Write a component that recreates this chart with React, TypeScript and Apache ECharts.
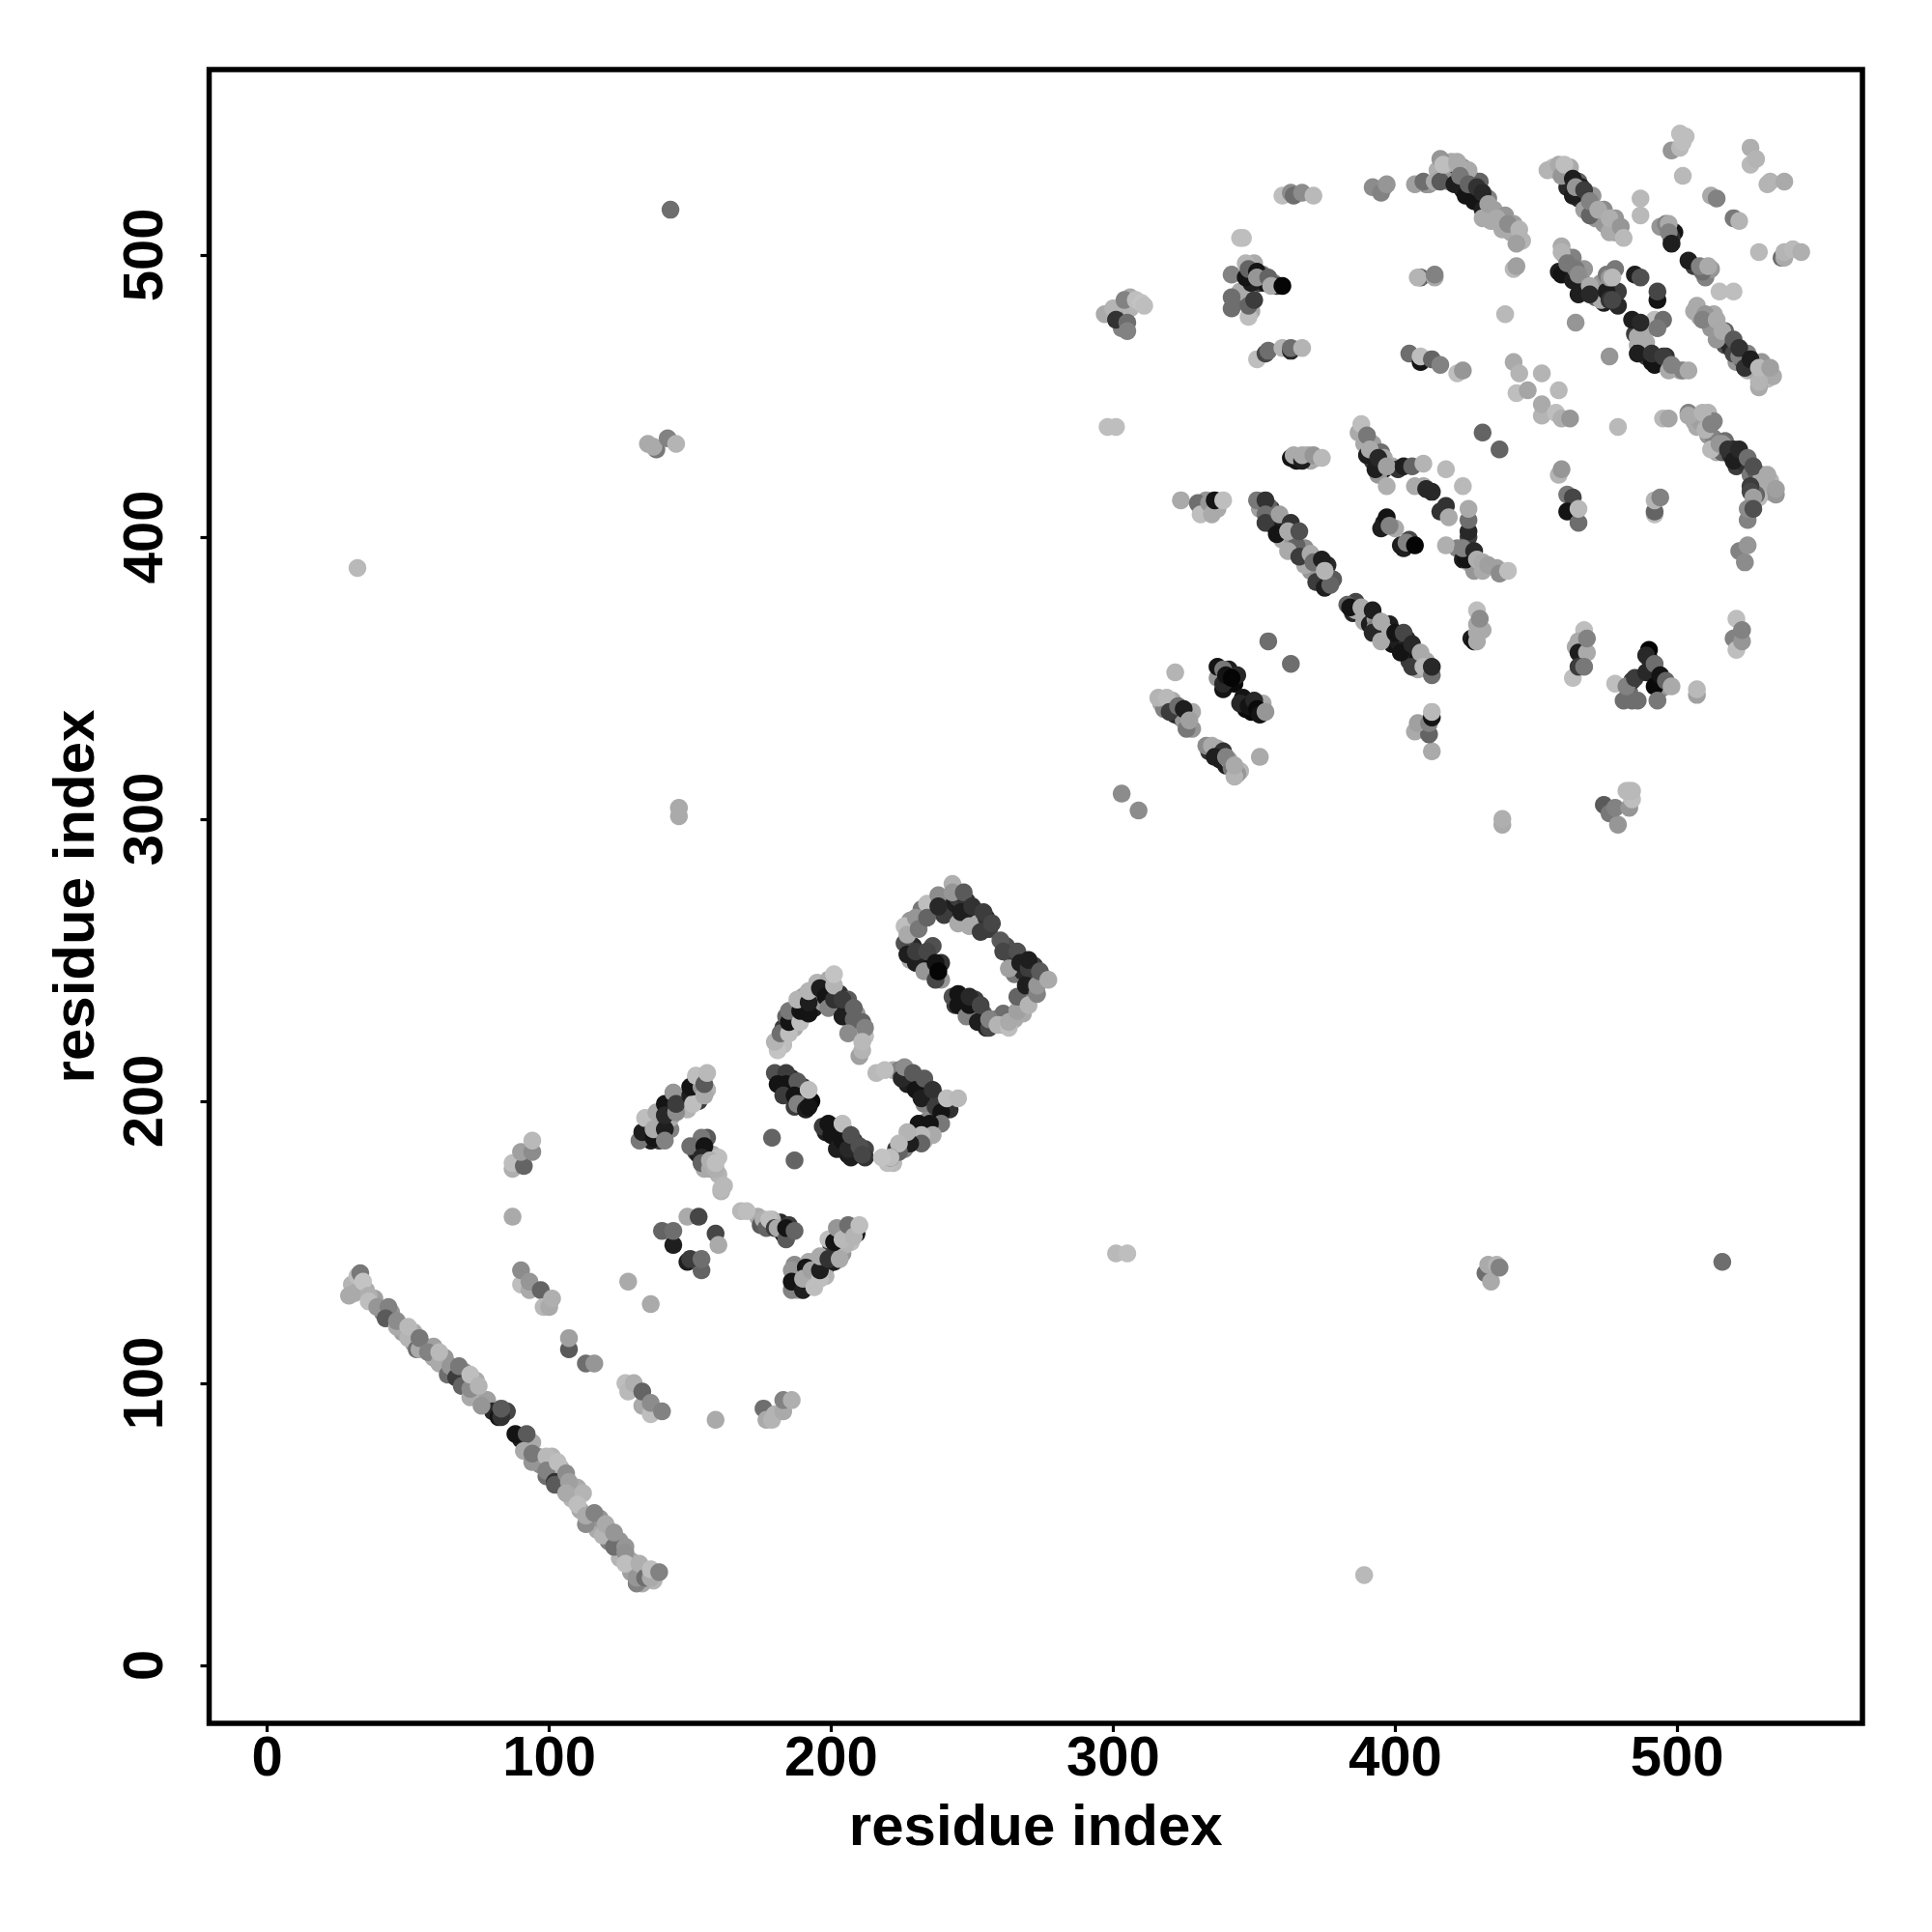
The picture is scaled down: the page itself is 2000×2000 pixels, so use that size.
import React, { useEffect, useRef } from "react";
import * as echarts from "echarts";

type P = [number, number, number];

const tickValues = [0, 100, 200, 300, 400, 500];
const axisTitle = "residue index";

// each contact: residue i, residue j, grey level
const mainStrand: P[] = [[29,131,170],[32,138,190],[33,139,120],[31,132,170],[34,136,195],[36,131,175],[36,129,190],[39,127,150],[43,127,130],[42,123,90],[46,120,170],[46,122,140],[50,116,180],[50,120,185],[53,112,110],[54,112,170],[54,116,120],[57,111,130],[61,107,170],[61,111,185],[64,103,110],[65,106,150],[67,102,60],[68,106,120],[69,99,100],[72,95,170],[72,98,140],[72,103,190],[75,99,180],[76,92,150],[82,88,20],[83,88,50],[83,91,90],[88,82,20],[92,82,90],[91,76,170],[94,72,150],[94,75,120],[99,74,185],[99,67,110],[99,69,130],[103,72,190],[102,65,50],[102,64,90],[106,68,140],[107,65,160],[106,61,170],[112,61,180],[110,57,190],[113,50,140],[113,53,170],[116,54,130],[119,46,180],[120,50,170],[123,42,110],[123,47,150],[127,42,150],[127,40,145],[127,36,190],[131,29,130],[131,31,150],[132,36,175],[134,31,110],[136,31,170],[136,34,190],[139,33,130]];
const mainStrandFill: P[] = [[30,135,180],[35,133,170],[38,130,160],[41,125,130],[44,125,150],[48,118,160],[52,118,170],[52,114,150],[56,113,140],[59,109,170],[59,113,160],[63,109,150],[66,104,90],[70,104,150],[70,101,110],[74,96,160],[74,101,170],[78,94,160],[80,90,40],[85,90,70],[90,80,30],[94,79,170],[96,74,160],[97,71,140],[101,70,170],[101,74,180],[104,66,120],[105,63,90],[104,70,180],[108,59,180],[110,63,170],[111,55,170],[115,52,160],[117,48,170],[118,52,150],[121,44,130],[121,48,160],[125,44,150],[125,38,180],[129,37,170],[129,33,160],[133,33,150],[137,30,180],[133,29,170]];
const lowerScatter: P[] = [[87,176,175],[87,178,190],[91,177,100],[90,182,160],[94,182,140],[94,186,185],[87,159,170],[90,135,190],[90,140,140],[93,133,170],[93,136,150],[97,133,100],[98,127,185],[100,127,170],[101,130,175],[107,112,90],[107,116,160],[113,107,110],[116,107,150],[128,136,170],[136,128,170],[127,100,190],[128,97,185],[130,100,175],[133,92,170],[133,97,100],[136,89,190],[136,93,140],[140,90,130],[159,87,170],[176,91,110],[177,87,170],[179,87,180],[180,89,180],[183,90,170],[183,94,130],[186,94,175]];
const clusterA: P[] = [[132,186,120],[133,189,30],[137,187,20],[134,194,190],[137,190,170],[141,190,30],[141,186,130],[138,196,170],[141,199,20],[141,195,40],[144,203,150],[145,196,140],[145,199,60],[150,202,30],[151,199,190],[150,205,20],[154,205,150],[155,202,170],[152,209,190],[155,206,90],[156,210,185]];
const clusterAFill: P[] = [[135,188,60],[135,192,150],[139,186,60],[139,193,60],[143,190,130],[142,197,90],[147,198,150],[148,201,170],[149,197,180],[152,203,30],[153,200,60],[153,207,170],[156,204,180],[151,206,190],[143,194,170],[136,186,30],[134,189,170]];
const clusterB: P[] = [[154,187,120],[150,184,110],[155,184,20],[154,180,40],[154,178,100],[157,176,170],[157,179,175],[159,176,175],[159,178,190],[161,168,180],[161,169,185],[168,161,185],[170,161,190],[176,158,175],[177,155,100],[178,158,190],[180,155,60],[181,155,170],[184,151,90],[184,155,20],[187,154,100]];
const clusterBFill: P[] = [[152,182,70],[156,182,30],[156,187,90],[153,181,30],[158,181,170],[155,176,170],[160,180,190],[160,174,180],[162,170,185],[174,159,170],[175,156,90],[179,156,30],[182,157,40],[183,153,20],[185,156,60],[179,158,180]];
const smallRing: P[] = [[149,159,170],[153,159,70],[140,154,100],[144,149,30],[144,154,110],[159,153,70],[160,149,170],[149,143,30],[154,140,100],[150,144,60],[154,144,110],[179,187,100],[187,179,100]];
const lowerArm: P[] = [[186,133,130],[186,140,150],[186,136,20],[190,133,30],[191,141,20],[190,137,170],[194,134,190],[193,140,160],[196,137,190],[196,140,30],[196,145,170],[199,144,50],[203,144,170],[199,151,190],[201,150,20],[202,155,150],[204,151,185],[206,156,110],[208,152,180],[210,156,190]];
const lowerArmFill: P[] = [[188,135,60],[188,139,170],[187,142,140],[192,136,170],[192,143,170],[194,138,40],[198,141,30],[198,138,180],[200,146,100],[201,143,30],[204,146,150],[200,149,60],[203,153,170],[205,154,90],[207,150,190],[208,155,170],[209,153,30],[205,149,180],[188,133,170]];
const middleArch: P[] = [[181,218,195],[180,221,180],[182,224,110],[185,224,190],[185,228,20],[185,232,120],[189,228,190],[189,232,20],[188,236,180],[192,231,20],[192,235,30],[192,239,180],[196,240,30],[198,237,20],[199,233,130],[201,236,50],[201,241,180],[201,245,195],[204,230,30],[204,236,60],[208,229,100],[208,233,100],[206,224,140],[211,228,100],[212,226,130],[210,216,160],[211,218,180],[211,221,185]];
const middleArchFill: P[] = [[183,220,190],[183,226,60],[187,226,170],[184,230,100],[187,230,30],[190,234,60],[190,237,160],[194,233,30],[194,237,100],[195,242,180],[197,235,150],[199,239,30],[203,233,40],[203,238,50],[206,231,60],[206,236,90],[209,227,40],[209,231,150],[212,223,190],[210,224,170],[207,226,170],[204,234,30],[199,243,170]];
const middleLeft: P[] = [[180,210,80],[184,210,60],[181,206,20],[184,206,20],[188,207,90],[183,202,60],[187,202,20],[188,199,130],[191,197,30],[192,198,20],[192,204,190]];
const middleLeftFill: P[] = [[182,208,70],[186,208,40],[185,204,30],[190,205,60],[189,200,20],[186,205,170],[183,209,130],[190,200,170],[184,203,100],[187,198,60],[193,200,10]];
const middleLower: P[] = [[197,191,60],[199,192,20],[200,188,20],[202,183,30],[204,186,20],[204,192,190],[207,180,30],[206,183,40],[207,188,80],[210,184,80],[211,181,70]];
const middleLowerFill: P[] = [[198,189,30],[201,191,30],[202,190,170],[203,188,20],[205,189,60],[205,185,30],[208,186,60],[209,182,30],[212,183,70],[206,181,20],[203,184,90],[212,180,50]];
const middleRight: P[] = [[216,210,185],[219,211,190],[225,208,40],[226,212,140],[229,210,90],[230,204,20],[233,208,90],[232,201,30],[236,204,50],[237,198,60],[239,196,20],[241,201,190],[245,201,185],[239,192,120],[235,192,20],[231,192,20],[236,188,170],[232,188,185],[232,185,100],[228,185,30],[227,189,180],[224,182,100],[224,185,185],[221,180,80],[221,180,190],[218,180,195]];
const middleRightFill: P[] = [[222,211,170],[224,211,130],[227,209,60],[227,206,30],[231,206,40],[234,205,60],[235,201,60],[233,199,130],[238,201,100],[240,198,30],[238,194,40],[242,197,50],[234,193,140],[230,189,150],[229,187,170],[233,186,170],[226,183,130],[223,183,60],[222,178,185],[220,178,190]];
const upperLoop: P[] = [[226,256,80],[227,252,30],[230,249,30],[230,253,60],[233,246,150],[234,253,70],[237,243,70],[237,249,20],[238,246,5],[226,262,190],[227,259,170],[230,265,150],[231,261,120],[234,270,190],[234,265,100],[238,273,140],[238,269,40],[243,277,175],[243,274,150],[246,267,30],[247,274,90],[249,262,170],[250,269,50],[253,260,60],[254,267,60],[257,263,70]];
const upperLoopRight: P[] = [[243,237,80],[245,234,20],[245,238,20],[248,230,130],[249,234,20],[249,237,40],[252,228,30],[253,234,70],[256,226,70],[256,229,130],[259,227,180],[263,226,190],[263,228,170],[266,232,160],[266,237,100],[260,257,90],[261,253,70],[263,247,160],[266,253,80],[267,249,30],[270,247,60],[270,250,30],[269,241,30],[270,234,180],[273,238,130],[273,241,150],[274,246,90],[277,243,170]];
const upperLoopFill: P[] = [[228,264,150],[229,255,40],[228,250,170],[232,251,50],[235,250,20],[236,247,20],[236,255,80],[239,249,50],[239,243,150],[232,268,120],[236,268,90],[241,271,50],[240,266,60],[244,270,30],[245,272,60],[248,271,50],[251,266,30],[252,263,170],[255,265,50],[256,261,60],[245,263,170],[262,255,80],[264,251,60],[268,250,60],[265,245,120],[268,246,40],[272,243,70],[271,239,150],[275,244,120],[272,248,60],[246,236,30],[247,233,40],[251,232,30],[251,236,60],[254,231,90],[255,226,40],[258,229,130],[261,231,110],[261,227,160],[265,229,170],[268,236,130],[268,231,170],[244,234,60]];
const farContacts: P[] = [[143,516,110],[135,433,170],[138,431,120],[137,432,170],[142,435,130],[145,433,180],[32,389,185],[146,301,170],[146,304,170],[301,146,185],[305,146,190],[389,32,185],[432,139,110],[434,136,170],[433,142,170],[436,142,180],[437,141,130],[516,143,110],[438,298,170],[438,300,175],[303,309,140],[309,303,140]];
const bandTopLeft: P[] = [[297,479,170],[300,481,180],[301,477,50],[304,484,130],[305,476,110],[305,473,130],[308,484,190],[310,483,195],[311,482,190],[345,506,190],[346,506,190],[342,493,130],[342,481,110],[342,485,110],[348,478,190],[348,482,100],[350,484,60],[347,497,180],[347,492,20],[348,495,100],[351,494,20],[351,492,150],[355,492,100],[356,489,170],[360,489,5],[351,463,190],[354,465,70],[355,466,110],[360,467,180],[363,466,40],[363,467,110],[367,467,180],[360,521,190],[363,522,140],[364,521,110],[367,522,140],[371,521,185],[392,524,140],[395,522,130],[397,525,150],[298,439,190],[301,439,190]];
const bandTopLeftFill: P[] = [[349,493,30],[352,490,60],[353,493,120],[354,490,20],[357,490,130],[343,483,110],[345,487,170],[349,490,30],[358,489,60],[350,497,170],[349,480,170],[303,480,120],[306,485,170],[306,481,180],[303,474,130],[396,524,150],[411,525,140],[412,525,150],[365,427,20],[369,429,170],[370,427,170],[372,428,170],[331,410,170],[333,413,150],[337,410,170],[334,410,120]];
const bandTop: P[] = [[407,525,160],[410,526,110],[414,526,170],[416,526,90],[416,534,150],[417,532,190],[422,532,175],[409,492,100],[408,492,180],[414,492,170],[414,493,130],[405,465,110],[409,462,20],[409,464,190],[413,463,100],[416,461,130],[422,458,190],[424,459,150]];
const bandTopFill: P[] = [[418,527,150],[420,526,170],[415,530,175],[420,530,190],[417,528,170]];
const strandOne: P[] = [[422,533,170],[421,525,30],[423,528,120],[425,521,20],[426,525,100],[428,519,20],[429,524,50],[431,522,40],[431,516,30],[431,513,170],[433,518,160],[436,513,170],[438,509,170],[440,511,140],[444,509,180],[443,504,160],[442,495,185],[443,496,160]];
const strandOneFill: P[] = [[420,528,60],[424,523,30],[424,531,150],[427,522,60],[427,527,130],[430,519,30],[430,526,100],[433,520,130],[433,515,170],[434,512,170],[435,516,160],[437,511,170],[439,514,150],[441,508,170],[442,511,160],[445,505,180],[419,526,150],[418,532,170],[426,530,170],[420,533,170]];
const strandTwo: P[] = [[454,530,180],[458,532,170],[459,528,150],[460,532,190],[463,521,30],[463,527,30],[464,524,150],[467,516,160],[467,523,60],[469,514,100],[469,519,130],[472,516,170],[476,508,170],[476,513,175],[480,510,150],[481,506,185]];
const strandTwoFill: P[] = [[456,531,190],[461,528,60],[461,524,40],[462,531,170],[465,526,100],[465,520,50],[466,524,30],[468,518,30],[470,521,150],[471,513,150],[473,514,30],[474,511,150],[474,516,140],[477,511,170],[478,508,150],[478,513,150],[457,530,160]];
const upperRightBits: P[] = [[487,514,185],[487,520,185],[496,511,130],[497,511,170],[497,508,130],[498,504,30],[504,498,30],[509,494,110],[508,496,130],[511,496,170],[498,537,150],[501,538,185],[502,540,190],[501,543,190],[503,542,190],[502,528,185],[512,521,170],[514,520,130],[520,513,120],[522,512,180],[526,538,175],[526,532,185],[528,534,180],[532,525,180],[533,526,180],[538,526,170],[529,501,185],[537,499,110],[538,499,170],[538,501,180],[541,502,185],[544,501,175],[515,487,190],[520,487,190]];
const upperRightFill: P[] = [[499,508,20],[498,506,50],[494,510,150],[506,496,60],[510,492,130],[512,495,150]];
const strandThree: P[] = [[459,503,170],[459,501,180],[459,493,20],[461,497,120],[463,491,30],[464,495,120],[465,486,30],[465,493,140],[469,489,170],[469,486,40],[475,487,30],[476,484,50],[477,484,70],[475,493,120],[476,492,150],[478,495,120],[477,492,185],[485,493,30],[487,492,80],[493,484,20],[493,487,70],[492,477,190],[495,477,110],[493,474,120]];
const strandThreeFill: P[] = [[460,500,150],[458,494,30],[462,494,60],[463,499,130],[466,491,120],[467,487,60],[467,495,150],[471,488,170],[471,485,100],[473,490,150],[479,482,40],[474,483,30],[479,487,60],[473,484,170]];
const strandThreeLower: P[] = [[484,477,30],[487,476,40],[489,469,170],[486,465,30],[492,461,20],[491,465,50],[495,464,60],[497,459,170],[498,461,130],[502,459,130],[504,459,170]];
const strandThreeLowerFill: P[] = [[486,468,170],[487,466,40],[489,464,60],[492,463,130],[495,462,100],[496,464,50],[491,462,20],[501,459,170],[488,472,170],[485,472,60],[486,471,170]];
const midScatter: P[] = [[439,479,185],[464,476,150],[476,464,150],[442,462,170],[443,451,190],[444,458,180],[447,452,165],[452,458,180],[458,452,185],[452,443,180],[452,447,170],[457,444,190],[459,442,175],[462,442,150],[479,439,185],[495,442,185],[497,442,165],[431,437,100],[437,431,100],[458,422,180],[459,424,150]];
const strandFour: P[] = [[506,480,170],[510,479,150],[509,477,130],[514,477,170],[514,470,150],[516,473,170],[520,465,70],[520,470,90],[522,464,130],[522,467,50],[524,460,50],[526,463,30],[529,453,170],[529,455,180],[529,460,185],[533,460,160]];
const strandFourFill: P[] = [[508,478,170],[511,476,160],[512,474,150],[513,479,170],[515,470,130],[517,468,80],[517,473,100],[518,469,30],[519,467,40],[521,462,150],[523,463,50],[525,459,180],[525,465,130],[527,459,170],[531,457,170],[530,462,150],[532,456,185],[534,457,170],[507,482,170]];
const strandFive: P[] = [[504,444,130],[504,443,170],[509,444,180],[510,438,180],[512,440,130],[512,431,185],[515,433,150],[518,431,50],[520,427,30],[522,431,40],[526,418,60],[525,428,110],[527,425,80],[532,422,170],[535,417,160]];
const strandFiveFill: P[] = [[506,441,170],[507,439,170],[508,441,160],[511,436,150],[513,435,130],[514,430,170],[516,430,100],[517,434,110],[519,429,40],[521,425,60],[523,428,50],[524,426,50],[526,422,120],[528,423,90],[529,419,170],[530,422,170],[533,416,175],[533,420,180],[531,418,170],[535,415,150],[529,414,185],[511,444,180],[513,441,130],[528,415,100],[520,431,40],[516,433,150]];
const rightColumns: P[] = [[461,415,120],[463,414,70],[461,409,20],[465,405,110],[465,410,185],[492,408,190],[492,409,100],[492,413,180],[494,414,130],[526,416,70],[527,414,160],[525,406,130],[525,410,140],[527,410,80],[522,395,130],[524,391,140],[525,397,150]];
const lowerColumns: P[] = [[429,374,190],[428,363,20],[429,366,170],[429,363,170],[430,371,140],[467,367,190],[465,363,170],[465,359,30],[468,359,170],[468,364,130],[463,350,190],[465,354,60],[467,354,120],[478,348,190],[481,342,110],[484,342,110],[486,342,110],[482,347,130],[485,350,60],[490,360,5],[489,358,40],[489,352,40],[492,355,110],[492,347,10],[494,351,20],[493,342,120],[496,349,100],[498,347,170],[507,344,160],[507,346,185],[520,364,130],[521,360,190],[521,371,190],[523,363,150],[523,367,130],[474,305,90],[476,302,120],[479,298,150],[478,304,130],[483,304,150],[483,310,170],[484,307,190],[482,310,185],[484,310,185]];
const lowerColumnsFill: P[] = [[429,369,170],[427,364,30],[431,367,170],[490,357,20],[491,353,30],[495,348,30],[494,346,120],[496,347,150],[483,345,110],[484,349,60],[483,343,100],[466,362,150],[464,361,170],[522,365,150]];
const shortRow: P[] = [[324,413,170],[330,412,110],[331,408,190],[334,412,150],[335,408,170],[336,413,20],[339,413,190],[363,428,20],[364,429,170],[367,427,30],[367,429,170],[371,429,150],[374,428,185]];
const longStrandUpper: P[] = [[351,413,120],[354,413,50],[354,408,110],[354,405,60],[358,401,20],[359,408,160],[363,405,50],[362,402,170],[366,402,80],[362,395,170],[366,393,60],[370,394,170],[371,391,110],[374,392,30],[372,384,60],[375,382,30],[377,383,100],[375,388,180]];
const longStrandUpperFill: P[] = [[352,410,160],[356,410,60],[356,405,30],[360,403,50],[360,399,170],[364,399,150],[368,396,140],[368,392,30],[372,389,170],[374,386,170],[376,384,30],[373,388,30],[365,397,100],[361,404,60],[355,411,100],[357,404,30],[376,390,40],[370,388,150],[368,390,170],[378,385,90]];
const longStrandLower: P[] = [[383,376,100],[384,375,20],[388,375,170],[392,374,30],[392,366,40],[395,363,170],[395,370,170],[402,359,20],[400,366,20],[403,366,70],[406,354,60],[406,362,40],[409,359,170],[410,354,185],[413,351,110],[413,354,40]];
const longStrandLowerFill: P[] = [[385,373,40],[386,377,70],[390,372,60],[389,370,170],[391,369,30],[393,371,150],[393,368,130],[397,364,60],[398,369,30],[396,367,170],[399,362,20],[401,363,30],[404,364,40],[404,360,30],[405,356,60],[408,357,20],[408,353,170],[411,356,170],[386,374,170]];
const centerLeft: P[] = [[355,363,110],[363,355,110],[322,352,180],[337,354,20],[339,348,40],[339,353,120],[340,351,20],[342,350,5],[348,340,20],[350,342,40],[351,339,10],[352,337,20],[354,338,150],[316,343,180],[319,343,185],[320,338,60],[323,340,110],[325,339,30],[326,332,120],[327,335,160],[333,326,140],[335,326,170],[339,324,50],[336,322,30],[340,322,130],[344,316,150],[343,315,180],[343,319,170],[352,322,170]];
const centerLeftFill: P[] = [[338,352,60],[341,353,30],[341,349,30],[339,346,20],[343,348,10],[344,351,40],[337,350,150],[346,343,20],[347,339,10],[349,338,10],[350,340,120],[353,341,170],[345,341,40],[317,341,170],[318,339,130],[321,342,170],[322,337,40],[324,336,40],[326,337,110],[325,335,150],[328,338,170],[328,332,150],[334,324,50],[337,325,170],[338,321,30],[340,319,30],[341,321,170],[342,318,120],[345,317,180]];
const centerRight: P[] = [[387,437,170],[388,440,190],[390,436,120],[390,429,30],[391,431,170],[393,424,30],[394,428,40],[397,425,160],[403,425,30],[406,425,100],[410,426,180],[397,418,175],[407,418,170],[411,417,40],[418,424,185],[424,418,185],[418,411,50],[419,407,170],[426,402,40],[426,406,110],[426,410,170],[395,403,30],[397,407,20],[398,404,130],[403,396,30],[404,398,130],[407,397,5],[418,397,175],[425,392,20],[424,396,130],[428,395,40],[431,388,170],[429,392,175],[431,391,170],[433,390,160],[436,389,160],[437,387,140],[440,388,190],[413,324,170],[407,331,170],[412,330,100],[408,334,160],[412,334,130],[413,336,20],[413,338,185]];
const centerRightFill: P[] = [[389,433,170],[392,427,60],[392,433,160],[395,430,110],[396,424,30],[399,425,170],[401,424,50],[396,428,170],[393,428,30],[394,422,150],[400,403,170],[396,405,30],[402,397,30],[405,399,70],[416,409,50],[410,418,170],[413,416,40],[422,396,130],[424,392,30],[426,391,170],[428,388,150],[426,400,60]];

const allContacts: P[] = [
  ...mainStrandFill, ...clusterAFill, ...clusterBFill, ...lowerArmFill, ...middleArchFill,
  ...middleLeftFill, ...middleLowerFill, ...middleRightFill, ...upperLoopFill, ...bandTopLeftFill,
  ...bandTopFill, ...strandOneFill, ...strandTwoFill, ...upperRightFill, ...strandThreeFill,
  ...strandThreeLowerFill, ...strandFourFill, ...strandFiveFill, ...lowerColumnsFill,
  ...longStrandUpperFill, ...longStrandLowerFill, ...centerLeftFill, ...centerRightFill,
  ...mainStrand, ...lowerScatter, ...clusterA, ...clusterB, ...smallRing, ...lowerArm,
  ...middleArch, ...middleLeft, ...middleLower, ...middleRight, ...upperLoop, ...upperLoopRight,
  ...farContacts, ...bandTopLeft, ...bandTop, ...strandOne, ...strandTwo, ...upperRightBits,
  ...strandThree, ...strandThreeLower, ...midScatter, ...strandFour, ...strandFive,
  ...rightColumns, ...lowerColumns, ...shortRow, ...longStrandUpper, ...longStrandLower,
  ...centerLeft, ...centerRight,
];

const FONT = "Liberation Sans";

function axis(isY: boolean) {
  return {
    type: "value",
    min: -20.6,
    max: 565.7,
    name: axisTitle,
    nameLocation: "middle",
    nameGap: isY ? 110 : 75,
    nameRotate: isY ? 90 : 0,
    nameTextStyle: { fontFamily: FONT, fontWeight: "bold", fontSize: 60, color: "#000" },
    splitLine: { show: false },
    axisLine: { show: false, onZero: false },
    axisTick: { show: true, length: 9, customValues: tickValues, lineStyle: { color: "#000", width: 3.2 } },
    axisLabel: {
      show: true,
      customValues: tickValues,
      rotate: isY ? 90 : 0,
      margin: isY ? 40 : 4,
      fontFamily: FONT,
      fontWeight: "bold",
      fontSize: 58,
      color: "#000",
      hideOverlap: false,
    },
  };
}

export default function App() {
  const ref = useRef<HTMLDivElement>(null);
  useEffect(() => {
    const chart = echarts.init(ref.current!, null, { renderer: "svg" });
    chart.setOption({
      animation: false,
      backgroundColor: "#fff",
      grid: {
        left: 216.5,
        top: 72,
        width: 1711.5,
        height: 1712,
        show: true,
        borderColor: "#000",
        borderWidth: 5.5,
        backgroundColor: "transparent",
        containLabel: false,
      },
      xAxis: axis(false),
      yAxis: axis(true),
      series: [
        {
          type: "scatter",
          symbol: "circle",
          symbolSize: 18.5,
          data: allContacts,
          clip: false,
          itemStyle: {
            opacity: 1,
            color: (p: any) => {
              const g = p.value[2];
              return `rgb(${g},${g},${g})`;
            },
          },
        },
      ],
    });
    return () => chart.dispose();
  }, []);
  return <div ref={ref} style={{ position: "absolute", left: 0, top: 0, width: 2000, height: 2000 }} />;
}
